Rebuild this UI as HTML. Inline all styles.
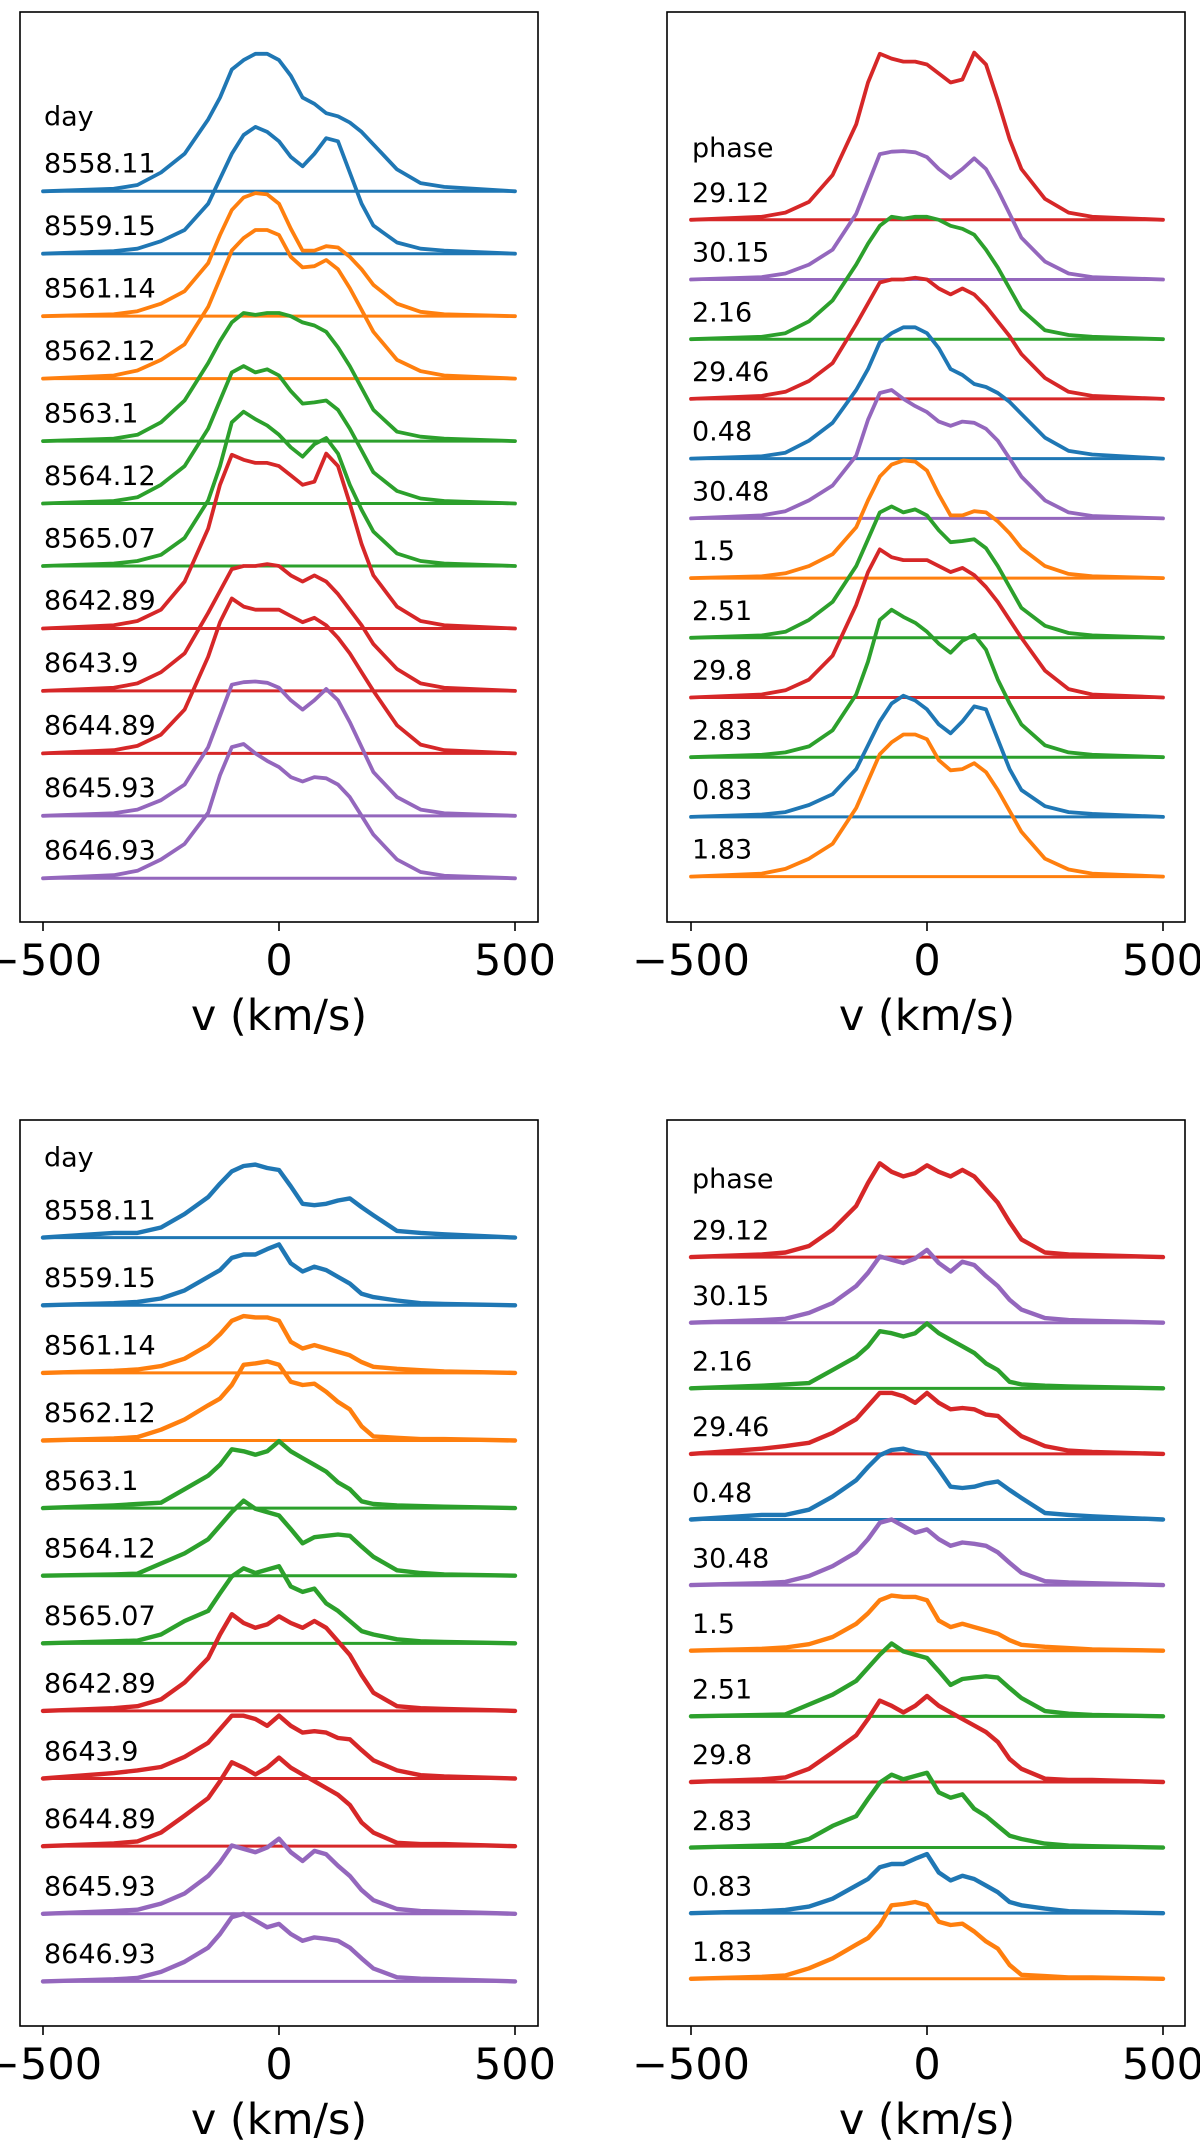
<!DOCTYPE html>
<html><head><meta charset="utf-8">
<style>
html,body{margin:0;padding:0;background:#fff;}
svg{display:block;}
text{font-family:"DejaVu Sans","Liberation Sans",sans-serif;fill:#000;}
</style></head>
<body>
<svg id="fig" width="1200" height="2141" viewBox="0 0 1200 2141" xmlns="http://www.w3.org/2000/svg"></svg>
<script>
// velocity grid (km/s)
const velocities = [-500,-350,-300,-250,-200,-150,-125,-100,-75,-50,-25,0,25,50,75,100,125,150,175,200,250,300,350,500];
// epochs
const dayLabels = ["8558.11","8559.15","8561.14","8562.12","8563.1","8564.12","8565.07","8642.89","8643.9","8644.89","8645.93","8646.93"];
const phaseLabels = ["29.12","30.15","2.16","29.46","0.48","30.48","1.5","2.51","29.8","2.83","0.83","1.83"];
const phaseOrder = [7,10,4,8,0,11,2,5,9,6,1,3];
const specColors = ["#1f77b4","#1f77b4","#ff7f0e","#ff7f0e","#2ca02c","#2ca02c","#2ca02c","#d62728","#d62728","#d62728","#9467bd","#9467bd"];
const tickValues = [-500,0,500];
const tickLabels = ["\u2212500","0","500"];
// upper-panel line profiles (normalised flux above continuum)
const lineA = [
[0,0.04,0.1,0.3,0.6,1.15,1.5,1.95,2.1,2.2,2.2,2.1,1.85,1.5,1.4,1.25,1.2,1.1,0.95,0.75,0.35,0.13,0.07,0],
[0,0.04,0.08,0.2,0.38,0.8,1.2,1.6,1.9,2.03,1.95,1.8,1.55,1.4,1.6,1.85,1.8,1.3,0.8,0.45,0.18,0.08,0.05,0],
[0,0.03,0.08,0.2,0.4,0.85,1.3,1.7,1.9,1.97,1.95,1.8,1.4,1.05,1.05,1.12,1.1,0.95,0.75,0.5,0.2,0.07,0.03,0],
[0,0.05,0.13,0.3,0.55,1.15,1.6,2.05,2.25,2.38,2.38,2.3,1.95,1.78,1.8,1.9,1.75,1.45,1.1,0.75,0.3,0.12,0.05,0],
[0,0.04,0.1,0.3,0.65,1.25,1.6,1.9,2.05,2.02,2.05,2.05,2.0,1.9,1.85,1.75,1.5,1.2,0.85,0.5,0.15,0.07,0.04,0],
[0,0.04,0.1,0.3,0.6,1.2,1.65,2.1,2.2,2.1,2.15,2.05,1.8,1.6,1.62,1.65,1.5,1.2,0.85,0.5,0.2,0.08,0.04,0],
[0,0.04,0.08,0.18,0.45,1.05,1.6,2.3,2.47,2.35,2.25,2.1,1.9,1.75,1.95,2.05,1.8,1.3,0.9,0.55,0.2,0.08,0.04,0],
[0,0.05,0.12,0.3,0.75,1.6,2.3,2.78,2.7,2.65,2.65,2.6,2.45,2.3,2.35,2.8,2.6,2.0,1.35,0.85,0.35,0.12,0.05,0],
[0,0.05,0.12,0.3,0.6,1.25,1.6,1.95,2.0,2.0,2.03,2.0,1.85,1.75,1.85,1.75,1.55,1.3,1.05,0.75,0.35,0.12,0.05,0],
[0,0.05,0.12,0.3,0.7,1.55,2.1,2.48,2.35,2.3,2.3,2.3,2.2,2.1,2.17,2.05,1.85,1.6,1.3,1.0,0.45,0.14,0.05,0],
[0,0.04,0.1,0.25,0.5,1.1,1.6,2.1,2.14,2.15,2.13,2.05,1.85,1.7,1.85,2.03,1.85,1.5,1.1,0.7,0.3,0.1,0.04,0],
[0,0.05,0.12,0.3,0.55,1.05,1.65,2.1,2.15,2.0,1.88,1.78,1.62,1.55,1.62,1.6,1.5,1.3,1.0,0.7,0.3,0.1,0.04,0]
];
// lower-panel line profiles
const lineB = [
[0,0.07,0.07,0.15,0.35,0.6,0.8,0.98,1.06,1.08,1.03,1.0,0.76,0.5,0.48,0.5,0.55,0.58,0.45,0.33,0.1,0.07,0.05,0],
[0,0.03,0.05,0.1,0.22,0.42,0.52,0.7,0.75,0.75,0.83,0.9,0.62,0.5,0.57,0.52,0.42,0.32,0.17,0.12,0.07,0.03,0.02,0],
[0,0.03,0.05,0.1,0.21,0.41,0.57,0.77,0.84,0.82,0.82,0.77,0.46,0.36,0.41,0.36,0.31,0.26,0.16,0.09,0.06,0.04,0.02,0],
[0,0.03,0.05,0.16,0.31,0.52,0.62,0.82,1.12,1.14,1.17,1.12,0.87,0.82,0.84,0.72,0.57,0.46,0.21,0.06,0.04,0.02,0.02,0],
[0,0.04,0.06,0.08,0.28,0.48,0.64,0.87,0.84,0.79,0.84,0.99,0.84,0.74,0.64,0.54,0.38,0.28,0.1,0.06,0.04,0.03,0.02,0],
[0,0.02,0.03,0.18,0.33,0.54,0.74,0.94,1.11,0.99,0.94,0.89,0.69,0.48,0.57,0.59,0.61,0.59,0.43,0.28,0.08,0.04,0.02,0],
[0,0.03,0.04,0.13,0.33,0.48,0.74,0.99,1.11,1.04,1.09,1.14,0.84,0.76,0.81,0.59,0.48,0.33,0.18,0.13,0.06,0.03,0.02,0],
[0,0.04,0.07,0.17,0.42,0.78,1.13,1.43,1.3,1.23,1.28,1.4,1.3,1.23,1.33,1.23,1.03,0.83,0.53,0.27,0.07,0.04,0.03,0],
[0,0.08,0.12,0.17,0.32,0.53,0.73,0.93,0.93,0.88,0.78,0.93,0.78,0.68,0.7,0.68,0.6,0.58,0.42,0.27,0.12,0.05,0.03,0],
[0,0.04,0.07,0.2,0.45,0.71,0.96,1.24,1.16,1.06,1.16,1.31,1.16,1.06,0.96,0.86,0.76,0.61,0.35,0.2,0.05,0.03,0.03,0],
[0,0.04,0.06,0.15,0.3,0.56,0.76,1.01,0.96,0.91,0.98,1.11,0.91,0.78,0.93,0.88,0.71,0.56,0.35,0.2,0.07,0.04,0.03,0],
[0,0.03,0.05,0.14,0.29,0.5,0.7,0.95,1.0,0.9,0.8,0.85,0.7,0.6,0.65,0.63,0.6,0.5,0.34,0.19,0.06,0.04,0.03,0]
];

const NS="http://www.w3.org/2000/svg";
const svg=document.getElementById('fig');
function mk(tag,attrs,parent){const e=document.createElementNS(NS,tag);for(const k in attrs)e.setAttribute(k,attrs[k]);(parent||svg).appendChild(e);return e;}

const panels=[
 {name:'upper-left-panel',left:20,top:12,right:538,bottom:922,x0:43,ylim:[-0.7,13.87],prof:lineA,order:[0,1,2,3,4,5,6,7,8,9,10,11],labels:dayLabels,head:'day',lo:0.3,lw:3.8},
 {name:'upper-right-panel',left:667,top:12,right:1185,bottom:922,x0:691,ylim:[-0.76,14.48],prof:lineA,order:phaseOrder,labels:phaseLabels,head:'phase',lo:0.3,lw:3.8},
 {name:'lower-left-panel',left:20,top:1120,right:538,bottom:2026,x0:43,ylim:[-0.66,12.74],prof:lineB,order:[0,1,2,3,4,5,6,7,8,9,10,11],labels:dayLabels,head:'day',lo:0.27,lw:4.4},
 {name:'lower-right-panel',left:667,top:1120,right:1185,bottom:2026,x0:691,ylim:[-0.72,13.09],prof:lineB,order:phaseOrder,labels:phaseLabels,head:'phase',lo:0.27,lw:4.4}
];

panels.forEach(p=>{
 const g=mk('g',{});
 
 
 const xs=v=>p.x0+(v+500)*0.472;
 const ys=d=>p.bottom-(d-p.ylim[0])/(p.ylim[1]-p.ylim[0])*(p.bottom-p.top);
 const n=p.order.length;
 p.order.forEach((si,k)=>{
  const off=n-1-k;
  const col=specColors[si];
  const base=mk('line',{x1:xs(-500),x2:xs(500),y1:ys(off),y2:ys(off),stroke:col,'stroke-width':3},g);
  
  
  const pts=velocities.map((v,i)=>xs(v).toFixed(1)+','+ys(off+p.prof[si][i]).toFixed(1)).join(' ');
  const pl=mk('polyline',{points:pts,fill:'none',stroke:col,'stroke-width':p.lw,'stroke-linejoin':'round','stroke-linecap':'round'},g);
  
  
  const t=mk('text',{x:p.x0+1,y:ys(off+p.lo),'font-size':27},g);
  t.textContent=p.labels[k];
  
  
 });
 const h=mk('text',{x:p.x0+1,y:ys(n-1+1.05),'font-size':27},g);
 h.textContent=p.head;
 
 
 const fr=mk('rect',{x:p.left,y:p.top,width:p.right-p.left,height:p.bottom-p.top,fill:'none',stroke:'#000','stroke-width':1.6},g);
 
 
 tickValues.forEach((tv,i)=>{
  const tk=mk('line',{x1:xs(tv),x2:xs(tv),y1:p.bottom,y2:p.bottom+9,stroke:'#000','stroke-width':1.6},g);
  
  
  const tl=mk('text',{x:xs(tv),y:p.bottom+53,'font-size':43,'text-anchor':'middle'},g);
  tl.textContent=tickLabels[i];
  
  
 });
 const xl=mk('text',{x:xs(0),y:p.bottom+108,'font-size':43,'text-anchor':'middle'},g);
 xl.textContent='v (km/s)';
 
 
});
</script>
</body></html>
